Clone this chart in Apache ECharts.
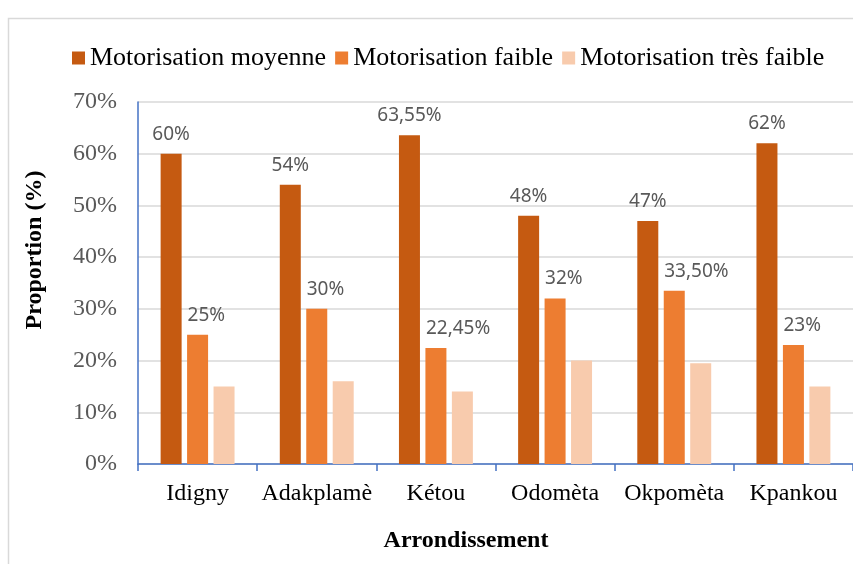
<!DOCTYPE html>
<html>
<head>
<meta charset="utf-8">
<script src="https://cdn.jsdelivr.net/npm/echarts@6/dist/echarts.min.js"></script>
<style>
html,body{margin:0;padding:0;background:#fff;}
#chart{width:853px;height:564px;}
</style>
</head>
<body>
<div id="chart"></div>
<script>
var categories = ['Idigny', 'Adakplamè', 'Kétou', 'Odomèta', 'Okpomèta', 'Kpankou'];
var seriesNames = ['Motorisation moyenne', 'Motorisation faible', 'Motorisation très faible'];
var moyenne = [60, 54, 63.55, 48, 47, 62];
var faible = [25, 30, 22.45, 32, 33.5, 23];
var tresFaible = [15, 16, 14, 20, 19.5, 15];
var yTicks = { min: 0, max: 70, interval: 10 };

var serif = '"Liberation Serif", "Times New Roman", serif';
var colors = ['#C55A11', '#ED7D31', '#F8CBAD'];

function fmt(p) {
  var v = p.value;
  return (Number.isInteger(v) ? String(v) : v.toFixed(2).replace('.', ',')) + '%';
}
var labelBase = {
  show: true, position: 'top', distance: 10,
  fontFamily: '"Noto Sans", sans-serif', fontSize: 19, color: '#595959',
  formatter: fmt
};

var chart = echarts.init(document.getElementById('chart'), null, { renderer: 'canvas' });
chart.setOption({
  animation: false,
  backgroundColor: '#fff',
  color: colors,
  legend: {
    top: 40, left: 67,
    itemWidth: 13, itemHeight: 13, itemGap: 9,
    icon: 'rect',
    textStyle: { fontFamily: serif, fontSize: 26, color: '#000' },
    data: seriesNames
  },
  grid: { left: 138, right: -5, top: 102, bottom: 100, containLabel: false },
  xAxis: {
    type: 'category',
    data: categories,
    axisLine: { lineStyle: { color: '#4472C4', width: 1.5 } },
    axisTick: { show: true, length: 7, lineStyle: { color: '#4472C4', width: 1.5 } },
    axisLabel: { interval: 0, fontFamily: serif, fontSize: 24, color: '#000', margin: 18 }
  },
  yAxis: {
    type: 'value',
    min: yTicks.min, max: yTicks.max, interval: yTicks.interval,
    axisLine: { show: true, lineStyle: { color: '#4472C4', width: 1.5 } },
    axisTick: { show: false },
    splitLine: { lineStyle: { color: '#D9D9D9', width: 1.5 } },
    axisLabel: { fontFamily: serif, fontSize: 24, color: '#595959', margin: 21, formatter: '{value}%' }
  },
  graphic: [
    { type: 'rect', left: 6, top: 16, shape: { width: 900, height: 600 }, style: { fill: 'none', stroke: '#D9D9D9', lineWidth: 1.5 }, z: -1 },
    { type: 'text', x: 35, y: 250, rotation: Math.PI / 2,
      style: { text: 'Proportion (%)', fontFamily: serif, fontSize: 24, fontWeight: 'bold', fill: '#000', align: 'center', verticalAlign: 'middle' } },
    { type: 'text', x: 466, y: 541,
      style: { text: 'Arrondissement', fontFamily: serif, fontSize: 24, fontWeight: 'bold', fill: '#000', align: 'center', verticalAlign: 'middle' } }
  ],
  series: [
    { name: seriesNames[0], type: 'bar', data: moyenne, barWidth: 21, barGap: '26%',
      label: labelBase },
    { name: seriesNames[1], type: 'bar', data: faible, barWidth: 21, barGap: '26%',
      label: Object.assign({}, labelBase, { align: 'left', offset: [-10, 0] }) },
    { name: seriesNames[2], type: 'bar', data: tresFaible, barWidth: 21, barGap: '26%',
      label: { show: false } }
  ]
});
</script>
</body>
</html>
